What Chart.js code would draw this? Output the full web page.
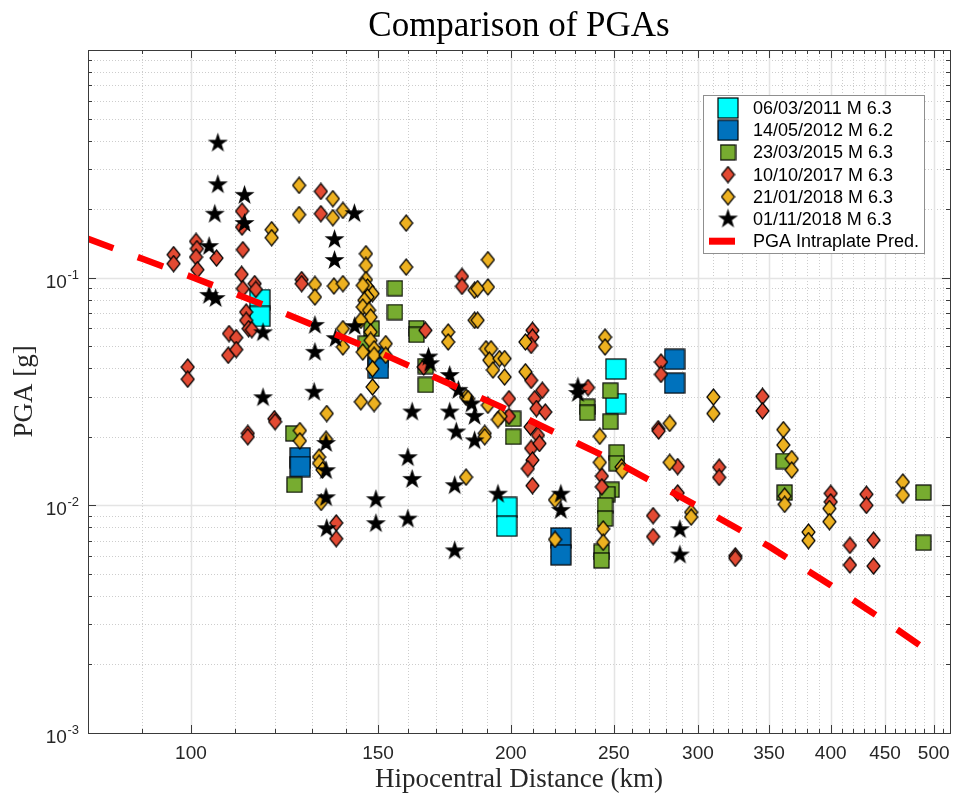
<!DOCTYPE html>
<html>
<head>
<meta charset="utf-8">
<title>Comparison of PGAs</title>
<script src="https://cdn.jsdelivr.net/npm/chart.js@4.4.1/dist/chart.umd.min.js"></script>
<style>
  html, body { margin: 0; padding: 0; background: #fff; }
  #wrap { position: relative; width: 961px; height: 793px; }
</style>
</head>
<body>
<div id="wrap"><canvas id="chart"></canvas></div>
<script>
// ---- data (hipocentral distance in km, PGA in g) ----
const eventLabels = ['06/03/2011 M 6.3', '14/05/2012 M 6.2', '23/03/2015 M 6.3',
                     '10/10/2017 M 6.3', '21/01/2018 M 6.3', '01/11/2018 M 6.3'];
const predLabel = 'PGA Intraplate Pred.';

const ev2011Dist = [116.1, 116.1, 198.2, 198.2, 251.1, 251.1];
const ev2011Pga  = [0.0801, 0.0676, 0.0098, 0.0081, 0.0397, 0.0280];

const ev2012Dist = [126.7, 126.7, 150.1, 150.1, 222.9, 222.9, 285.2, 285.2];
const ev2012Pga  = [0.0162, 0.0148, 0.0447, 0.0400, 0.00719, 0.00606, 0.0438, 0.0344];

const ev2015Dist = [124.8, 125.1, 155.6, 155.6, 163.0, 163.0, 147.9, 146.1, 166.3, 166.3,
                    201.0, 201.0, 236.0, 236.0, 248.1, 248.1, 251.6, 251.6, 248.8, 246.5,
                    245.3, 245.3, 243.4, 243.4, 361.2, 362.0, 488.9, 488.9];
const ev2015Pga  = [0.0207, 0.0123, 0.0899, 0.0706, 0.0600, 0.0561, 0.0597, 0.0513, 0.0409, 0.0338,
                    0.0240, 0.0200, 0.0271, 0.0255, 0.0319, 0.0233, 0.0171, 0.0153, 0.0117, 0.0112,
                    0.0100, 0.00875, 0.00624, 0.00573, 0.01565, 0.01138, 0.01138, 0.00685];

const ev2017Dist = [96.3, 96.3, 101.1, 101.3, 101.1, 101.4, 105.7, 111.7, 111.7, 111.9,
                    111.6, 111.9, 114.8, 115.1, 112.7, 112.7, 113.3, 114.1, 108.6, 110.3,
                    108.4, 110.3, 99.3, 99.3, 127.1, 127.1, 132.5, 132.5, 119.8, 120.0,
                    113.1, 113.1, 137.0, 137.0, 179.9, 179.9, 166.2, 165.6, 209.6, 209.6,
                    209.0, 199.2, 199.2, 209.0, 210.6, 211.4, 208.7, 212.1, 209.0, 209.6,
                    207.5, 209.6, 214.1, 215.5, 212.8, 236.4, 276.9, 276.9, 275.2, 275.5,
                    287.1, 287.1, 243.6, 243.6, 272.2, 272.2, 314.1, 314.1, 345.0, 345.0,
                    325.3, 325.3, 400.0, 400.0, 432.2, 432.2, 417.0, 417.0, 438.9, 438.9];
const ev2017Pga  = [0.1262, 0.1152, 0.1443, 0.1341, 0.1231, 0.1084, 0.1219, 0.196, 0.1668, 0.1327,
                    0.1034, 0.0895, 0.0941, 0.0888, 0.0706, 0.0649, 0.0597, 0.0591, 0.0568, 0.0545,
                    0.0456, 0.0483, 0.0405, 0.0358, 0.098, 0.0941, 0.2393, 0.1909, 0.024, 0.0233,
                    0.0207, 0.0200, 0.00837, 0.00714, 0.1013, 0.0916, 0.0587, 0.0405, 0.0587, 0.0548,
                    0.0504, 0.0294, 0.0246, 0.0354, 0.0294, 0.0266, 0.0221, 0.0203, 0.0178, 0.0158,
                    0.0145, 0.0122, 0.032, 0.0257, 0.0187, 0.0329, 0.0426, 0.0376, 0.0217, 0.0212,
                    0.0148, 0.01134, 0.01344, 0.01206, 0.00901, 0.00729, 0.0147, 0.01326, 0.0301, 0.026,
                    0.0060, 0.00585, 0.01128, 0.01036, 0.01118, 0.0100, 0.00667, 0.00547, 0.00703, 0.00541];

const ev2018aDist = [126.4, 126.4, 136.0, 136.0, 139.0, 119.1, 119.1, 130.8, 130.8, 136.3,
                     139.0, 159.4, 159.4, 146.1, 146.1, 146.1, 146.6, 148.2, 145.1, 146.6,
                     145.6, 145.1, 147.1, 147.6, 144.5, 147.6, 147.6, 148.7, 145.1, 148.7,
                     148.2, 148.2, 144.5, 148.7, 152.5, 152.5, 139.0, 139.0, 174.6, 174.6,
                     181.5, 184.9, 184.9, 190.3, 190.3, 186.1, 186.1, 189.5, 191.6, 190.9,
                     195.1, 197.3, 192.4, 197.3, 206.4, 206.4, 245.3, 245.3, 310.2, 310.2,
                     182.3, 190.3, 195.6, 194.5, 189.0, 189.0, 181.5, 134.2, 126.6, 126.6,
                     132.0, 132.0, 133.0, 132.6, 134.0, 242.5, 242.5, 254.2, 254.6, 244.3,
                     244.3, 220.1, 220.1, 282.2, 282.2, 295.6, 295.6, 361.0, 361.0, 367.6,
                     367.6, 362.0, 362.0, 381.2, 381.2, 398.9, 398.9, 467.7, 467.7];
const ev2018aPga  = [0.2544, 0.1892, 0.2223, 0.1834, 0.1974, 0.1624, 0.1498, 0.0934, 0.0822, 0.0919,
                     0.0941, 0.1737, 0.1113, 0.1274, 0.1132, 0.098, 0.091, 0.0851, 0.0925, 0.0822,
                     0.0795, 0.0743, 0.0719, 0.0671, 0.065, 0.0577, 0.053, 0.0487, 0.0471, 0.0456,
                     0.0398, 0.0331, 0.0285, 0.028, 0.0513, 0.0456, 0.0597, 0.0496, 0.0577, 0.0522,
                     0.0299, 0.088, 0.065, 0.1199, 0.091, 0.0895, 0.065, 0.0487, 0.0487, 0.0434,
                     0.0441, 0.0441, 0.0393, 0.0366, 0.0522, 0.0386, 0.0548, 0.0496, 0.0299, 0.0253,
                     0.0294, 0.0275, 0.0246, 0.0238, 0.0207, 0.0200, 0.0133, 0.0253, 0.0213, 0.0192,
                     0.0163, 0.0153, 0.0143, 0.0103, 0.0195, 0.0201, 0.01544, 0.01473, 0.0142, 0.00788,
                     0.00688, 0.01057, 0.00708, 0.0229, 0.01544, 0.00932, 0.00888, 0.0215, 0.0184, 0.01604,
                     0.01428, 0.01097, 0.0101, 0.00763, 0.0070, 0.00968, 0.00848, 0.01266, 0.01108];

const ev2018bDist = [106.0, 106.0, 112.3, 105.3, 112.3, 104.0, 104.0, 105.5, 116.9, 142.5,
                     136.5, 136.5, 130.8, 142.6, 136.8, 130.8, 167.3, 167.9, 175.2, 178.5,
                     161.5, 175.2, 183.7, 184.9, 177.7, 184.9, 160.0, 161.5, 177.1, 194.5,
                     149.3, 149.3, 160.0, 177.1, 116.9, 130.6, 134.0, 134.0, 134.0, 134.2,
                     231.3, 231.3, 222.9, 222.9, 288.5, 288.5];
const ev2018bPga  = [0.39, 0.256, 0.23, 0.19, 0.173, 0.137, 0.0836, 0.081, 0.0573, 0.191,
                     0.147, 0.119, 0.0617, 0.061, 0.054, 0.047, 0.0448, 0.0419, 0.0372, 0.032,
                     0.0257, 0.0257, 0.0279, 0.0246, 0.021, 0.0192, 0.0162, 0.013, 0.0122, 0.0112,
                     0.01059, 0.00831, 0.0087, 0.00631, 0.0297, 0.0314, 0.0187, 0.0142, 0.0108, 0.0079,
                     0.0331, 0.031, 0.0112, 0.0095, 0.00782, 0.00605];

const predDist = [80, 90, 100, 120, 150, 200, 250, 300, 350, 400, 450, 485];
const predPga  = [0.148, 0.121, 0.101, 0.0726, 0.0472, 0.0259, 0.0157, 0.0099, 0.0066, 0.00446, 0.0031, 0.00243];

const xLabelTicks = [100, 150, 200, 250, 300, 350, 400, 450, 500];
const yLabelExps = [-3, -2, -1];

// ---- helpers ----
const pts = (d, g) => d.map((v, i) => ({ x: v, y: g[i] }));

function squareMark(size, fill) {
  const c = document.createElement('canvas');
  c.width = c.height = size + 2;
  const ctx = c.getContext('2d');
  ctx.fillStyle = fill;
  ctx.strokeStyle = '#000';
  ctx.lineWidth = 1.2;
  ctx.fillRect(1, 1, size, size);
  ctx.strokeRect(1, 1, size, size);
  return c;
}

function diamondMark(w, h, fill) {
  const c = document.createElement('canvas');
  c.width = w + 2; c.height = h + 2;
  const ctx = c.getContext('2d');
  ctx.beginPath();
  ctx.moveTo(1 + w / 2, 1);
  ctx.lineTo(1 + w, 1 + h / 2);
  ctx.lineTo(1 + w / 2, 1 + h);
  ctx.lineTo(1, 1 + h / 2);
  ctx.closePath();
  ctx.fillStyle = fill;
  ctx.fill();
  ctx.strokeStyle = '#000';
  ctx.lineWidth = 1.2;
  ctx.stroke();
  return c;
}

function starMark(R) {
  const c = document.createElement('canvas');
  const s = Math.ceil(2 * R) + 2;
  c.width = c.height = s;
  const ctx = c.getContext('2d');
  const r = R * 0.39;
  ctx.beginPath();
  for (let i = 0; i < 10; i++) {
    const a = -Math.PI / 2 + i * Math.PI / 5;
    const rr = i % 2 ? r : R;
    ctx.lineTo(s / 2 + rr * Math.cos(a), s / 2 + rr * Math.sin(a));
  }
  ctx.closePath();
  ctx.fillStyle = '#000';
  ctx.fill();
  return c;
}

const markCyan = squareMark(20, '#00ffff');
const markBlue = squareMark(20, '#0072bd');
const markGreen = squareMark(15, '#77ac30');
const markRed = diamondMark(13, 16, '#e34a33');
const markYellow = diamondMark(13, 16, '#edb120');
const markStar = starMark(10.5);

const sansFont = "'Liberation Sans', Arial, Helvetica, sans-serif";
const serifFont = "'Liberation Serif', 'Times New Roman', serif";

// grid, box, tick marks, titles and legend
const framePlugin = {
  id: 'frame',
  beforeDatasetsDraw(chart) {
    const { ctx, chartArea: a, scales: { x, y } } = chart;
    ctx.save();
    ctx.lineWidth = 1;
    ctx.strokeStyle = '#cdcdcd';
    ctx.setLineDash([1, 2]);
    for (let v = 90; v <= 510; v += 10) {
      if (xLabelTicks.includes(v)) continue;
      const px = Math.round(x.getPixelForValue(v)) + 0.5;
      ctx.beginPath(); ctx.moveTo(px, a.top); ctx.lineTo(px, a.bottom); ctx.stroke();
    }
    for (let e = -3; e < 0; e++) {
      for (let m = 2; m <= 9; m++) {
        const py = Math.round(y.getPixelForValue(m * Math.pow(10, e))) + 0.5;
        ctx.beginPath(); ctx.moveTo(a.left, py); ctx.lineTo(a.right, py); ctx.stroke();
      }
    }
    ctx.setLineDash([]);
    ctx.strokeStyle = '#e4e4e4';
    ctx.lineWidth = 1.5;
    xLabelTicks.forEach(v => {
      const px = Math.round(x.getPixelForValue(v)) + 0.5;
      ctx.beginPath(); ctx.moveTo(px, a.top); ctx.lineTo(px, a.bottom); ctx.stroke();
    });
    [0.01, 0.1].forEach(v => {
      const py = Math.round(y.getPixelForValue(v)) + 0.5;
      ctx.beginPath(); ctx.moveTo(a.left, py); ctx.lineTo(a.right, py); ctx.stroke();
    });
    ctx.restore();
  },
  afterDatasetsDraw(chart) {
    const { ctx, chartArea: a, scales: { x, y } } = chart;
    ctx.save();
    ctx.strokeStyle = '#3a3a3a';
    ctx.lineWidth = 1;
    const tickX = (v, len) => {
      const px = Math.round(x.getPixelForValue(v)) + 0.5;
      ctx.beginPath();
      ctx.moveTo(px, a.bottom); ctx.lineTo(px, a.bottom - len);
      ctx.moveTo(px, a.top); ctx.lineTo(px, a.top + len);
      ctx.stroke();
    };
    const tickY = (v, len) => {
      const py = Math.round(y.getPixelForValue(v)) + 0.5;
      ctx.beginPath();
      ctx.moveTo(a.left, py); ctx.lineTo(a.left + len, py);
      ctx.moveTo(a.right, py); ctx.lineTo(a.right - len, py);
      ctx.stroke();
    };
    for (let v = 90; v <= 510; v += 10) tickX(v, xLabelTicks.includes(v) ? 8 : 4);
    for (let e = -3; e < 0; e++) {
      tickY(Math.pow(10, e), 8);
      for (let m = 2; m <= 9; m++) tickY(m * Math.pow(10, e), 4);
    }
    ctx.strokeRect(Math.round(a.left) + 0.5, Math.round(a.top) + 0.5,
                   Math.round(a.right - a.left), Math.round(a.bottom - a.top));
    ctx.restore();
  },
  afterDraw(chart) {
    const { ctx, chartArea: a, scales: { y } } = chart;
    const cx = (a.left + a.right) / 2;
    ctx.save();
    // y tick labels with superscript exponents
    ctx.fillStyle = '#262626';
    ctx.textBaseline = 'alphabetic';
    yLabelExps.forEach(e => {
      const py = y.getPixelForValue(Math.pow(10, e));
      const exp = String(e);
      ctx.font = '13px ' + sansFont;
      const ew = ctx.measureText(exp).width;
      ctx.textAlign = 'left';
      ctx.fillText(exp, a.left - 9 - ew, py + 1);
      ctx.font = '19px ' + sansFont;
      ctx.textAlign = 'right';
      ctx.fillText('10', a.left - 9 - ew - 0.5, py + 10);
    });
    // titles
    ctx.fillStyle = '#000';
    ctx.textAlign = 'center';
    ctx.font = '35px ' + serifFont;
    ctx.fillText('Comparison of PGAs', cx, 36);
    ctx.fillStyle = '#262626';
    ctx.font = '27px ' + serifFont;
    ctx.fillText('Hipocentral Distance (km)', cx, 787);
    ctx.save();
    ctx.translate(32, (a.top + a.bottom) / 2);
    ctx.rotate(-Math.PI / 2);
    ctx.fillText('PGA [g]', 0, 0);
    ctx.restore();
    // legend
    const lx = 703.5, ly = 95.5, lw = 221, lh = 158;
    ctx.fillStyle = '#fff';
    ctx.fillRect(lx, ly, lw, lh);
    ctx.strokeStyle = '#8f8f8f';
    ctx.lineWidth = 1;
    ctx.strokeRect(lx, ly, lw, lh);
    const rows = chart.data.datasets;
    ctx.font = '18px ' + sansFont;
    ctx.textAlign = 'left';
    ctx.textBaseline = 'middle';
    rows.forEach((ds, i) => {
      const rowY = 108 + i * 22.2;
      if (ds.showLine) {
        ctx.strokeStyle = '#ff0000';
        ctx.lineWidth = 7;
        ctx.beginPath(); ctx.moveTo(709, rowY); ctx.lineTo(735, rowY); ctx.stroke();
      } else {
        const img = ds.pointStyle;
        ctx.drawImage(img, 728 - img.width / 2, rowY - img.height / 2);
      }
      ctx.fillStyle = '#000';
      ctx.fillText(ds.label, 753, rowY + 1);
    });
    ctx.restore();
  }
};

function scatterSet(label, d, g, img, order) {
  return { label, data: pts(d, g), pointStyle: img, pointRadius: 10, order, showLine: false };
}

new Chart(document.getElementById('chart'), {
  type: 'scatter',
  data: {
    datasets: [
      scatterSet(eventLabels[0], ev2011Dist, ev2011Pga, markCyan, 6),
      scatterSet(eventLabels[1], ev2012Dist, ev2012Pga, markBlue, 5),
      scatterSet(eventLabels[2], ev2015Dist, ev2015Pga, markGreen, 4),
      scatterSet(eventLabels[3], ev2017Dist, ev2017Pga, markRed, 3),
      scatterSet(eventLabels[4], ev2018aDist, ev2018aPga, markYellow, 2),
      scatterSet(eventLabels[5], ev2018bDist, ev2018bPga, markStar, 1),
      {
        label: predLabel,
        data: pts(predDist, predPga),
        showLine: true,
        borderColor: '#ff0000',
        borderWidth: 6.5,
        borderDash: [27, 26],
        borderCapStyle: 'butt',
        pointRadius: 0,
        tension: 0,
        fill: false,
        order: 0
      }
    ]
  },
  options: {
    responsive: true,
    maintainAspectRatio: false,
    animation: false,
    events: [],
    layout: { padding: { left: 0, top: 50, right: 2, bottom: 0 } },
    plugins: { legend: { display: false }, tooltip: { enabled: false } },
    scales: {
      x: {
        type: 'logarithmic',
        min: 80,
        max: 518,
        afterFit: s => { s.height = 60; },
        afterBuildTicks: s => {
          const t = [];
          for (let v = 90; v <= 510; v += 10) t.push({ value: v });
          s.ticks = t;
        },
        grid: { display: false, drawTicks: false },
        border: { display: false },
        ticks: {
          autoSkip: false,
          maxRotation: 0,
          minRotation: 0,
          padding: 9,
          color: '#262626',
          font: { family: sansFont, size: 19 },
          callback: v => xLabelTicks.includes(v) ? String(v) : ''
        }
      },
      y: {
        type: 'logarithmic',
        min: 0.001,
        max: 1,
        afterFit: s => { s.width = 88; },
        grid: { display: false, drawTicks: false },
        border: { display: false },
        ticks: { display: false }
      }
    }
  },
  plugins: [framePlugin]
});
</script>
</body>
</html>
